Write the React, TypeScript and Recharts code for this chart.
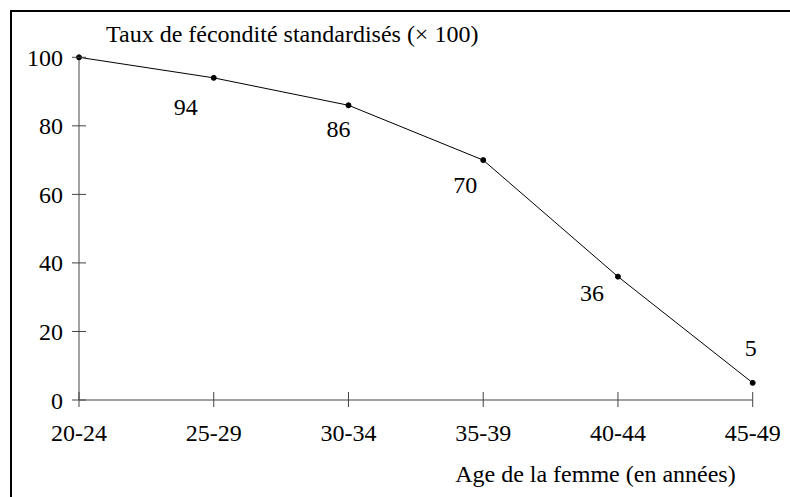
import { LineChart, Line, XAxis, YAxis, LabelList } from 'recharts';

const ageGroups = ['20-24', '25-29', '30-34', '35-39', '40-44', '45-49'];
const fertilityIndex = [100, 94, 86, 70, 36, 5];
const yTicks = [0, 20, 40, 60, 80, 100];

// where each value label sits relative to its point (first point has none)
const labelShift: Record<string, [number, number] | null> = {
  '20-24': null,
  '25-29': [-28, 37],
  '30-34': [-10, 32],
  '35-39': [-18, 33],
  '40-44': [-26, 24],
  '45-49': [-2, -27],
};

const data = ageGroups.map((age, i) => ({ age, value: fertilityIndex[i] }));

const FONT = '"Liberation Serif", "Times New Roman", serif';
const AXIS = '#444';

const YTick = ({ x, y, payload }: any) => (
  <g>
    <line x1={x - 7} x2={x + 7} y1={y} y2={y} stroke={AXIS} />
    <text x={x - 16} y={y} dy="0.355em" textAnchor="end" fontSize={24} fontFamily={FONT} fill="#000">
      {payload.value}
    </text>
  </g>
);

const XTick = ({ x, y, payload }: any) => (
  <g>
    <line x1={x} x2={x} y1={y - 8} y2={y + 7} stroke={AXIS} />
    <text x={x} y={y + 41} textAnchor="middle" fontSize={24} fontFamily={FONT} fill="#000">
      {payload.value}
    </text>
  </g>
);

const ValueLabel = ({ x, y, value, index }: any) => {
  const shift = labelShift[ageGroups[index]];
  if (!shift) return null;
  return (
    <text x={x + shift[0]} y={y + shift[1]} textAnchor="middle" fontSize={24} fontFamily={FONT} fill="#000">
      {value}
    </text>
  );
};

const App = () => {
  return (
    <div style={{ position: 'absolute', left: 0, top: 0, width: 790, height: 497, overflow: 'hidden', background: '#fff' }}>
      <div
        style={{
          position: 'absolute',
          left: 10,
          top: 10,
          width: 800,
          height: 500,
          border: '2px solid #000',
        }}
      />
      <div style={{ position: 'absolute', left: 0, top: 0 }}>
        <LineChart
          width={790}
          height={497}
          data={data}
          margin={{ top: 57.3, right: 37.3, bottom: 47, left: 19 }}
        >
          <XAxis
            dataKey="age"
            height={50}
            stroke={AXIS}
            tickLine={false}
            tickSize={0}
            tickMargin={0}
            tick={<XTick />}
            interval={0}
            label={{
              content: ({ viewBox }: any) => (
                <text
                  x={viewBox.x + viewBox.width - 17}
                  y={viewBox.y + 82}
                  textAnchor="end"
                  fontSize={24}
                  fontFamily={FONT}
                  fill="#000"
                >
                  Age de la femme (en années)
                </text>
              ),
            }}
          />
          <YAxis
            width={60}
            domain={[0, 100]}
            ticks={yTicks}
            stroke={AXIS}
            tickLine={false}
            tickSize={0}
            tickMargin={0}
            tick={<YTick />}
            label={{
              content: ({ viewBox }: any) => (
                <text
                  x={viewBox.x + viewBox.width + 27}
                  y={viewBox.y - 15}
                  textAnchor="start"
                  fontSize={24}
                  fontFamily={FONT}
                  fill="#000"
                >
                  Taux de fécondité standardisés (× 100)
                </text>
              ),
            }}
          />
          <Line
            dataKey="value"
            type="linear"
            stroke="#000"
            strokeWidth={1}
            dot={{ r: 2.5, fill: '#000', stroke: '#000', strokeWidth: 1 }}
            isAnimationActive={false}
          >
            <LabelList dataKey="value" content={<ValueLabel />} />
          </Line>
        </LineChart>
      </div>
    </div>
  );
};

export default App;
